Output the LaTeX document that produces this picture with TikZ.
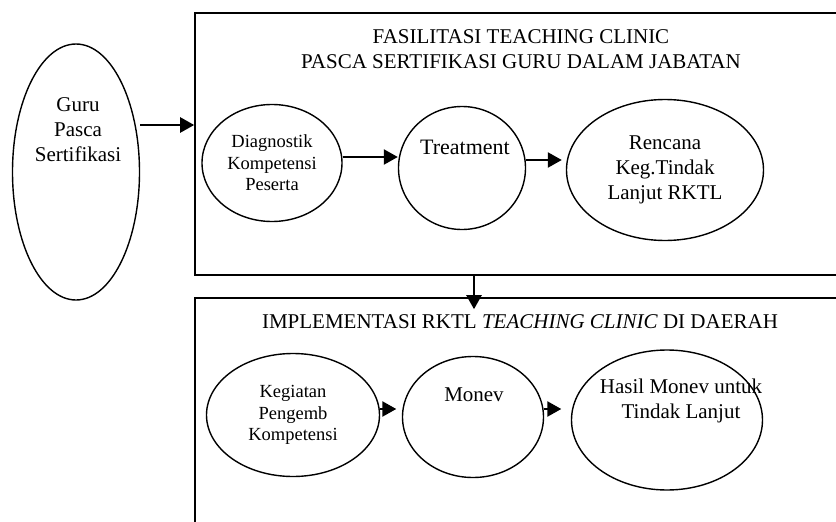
\documentclass[tikz,border=0pt]{standalone}
\usepackage{fontspec}
\setmainfont{Liberation Serif}
\usepackage{tikz}
\usetikzlibrary{arrows.meta,positioning,shapes.geometric}
\tikzset{
  ar/.style={-{Triangle[length=14pt,width=15pt]},line width=2.4pt},
  frame/.style={draw,line width=1.6pt,rectangle,inner sep=0pt},
  bub/.style={draw,ellipse,line width=1.4pt,inner sep=0pt,align=center},
  big/.style={font=\fontsize{21}{25}\selectfont},
  small/.style={font=\fontsize{18.5}{21.5}\selectfont}
}
\begin{document}
\begin{tikzpicture}[x=1pt,y=-1pt]
\useasboundingbox (0,0) rectangle (836,522);
\clip (0,0) rectangle (836,522);
\node[frame,minimum width=705pt,minimum height=262pt] (fasil) at (547.5,144) {};
\node[frame,minimum width=705pt,minimum height=300pt] (impl) at (547.5,448) {};
\node[big,align=center] (fasilT) at (521,49) {FASILITASI TEACHING CLINIC\\PASCA SERTIFIKASI GURU DALAM JABATAN};
\node[big] (implT) at (520,322) {IMPLEMENTASI RKTL \textit{TEACHING CLINIC} DI DAERAH};
\node[bub,minimum width=127pt,minimum height=256pt] (guru) at (76,172) {};
\node[big,align=center] (guruT) at (78,130) {Guru\\Pasca\\Sertifikasi};
\node[bub,small,minimum width=140pt,minimum height=117pt] (diag) at (272,163) {Diagnostik\\Kompetensi\\Peserta};
\node[bub,minimum width=127pt,minimum height=123pt] (treat) at (462,168) {};
\node[font=\fontsize{22}{25}\selectfont] (treatT) at (465,147) {Treatment};
\node[bub,big,minimum width=197pt,minimum height=141pt] (rktl) at (665,170) {Rencana\\Keg.Tindak\\Lanjut RKTL};
\node[bub,small,minimum width=173pt,minimum height=123pt] (kegiatan) at (293,415) {Kegiatan\\Pengemb\\Kompetensi};
\node[bub,minimum width=141pt,minimum height=121pt] (monev) at (473,417) {};
\node[big] (monevT) at (474,395) {Monev};
\node[bub,minimum width=191pt,minimum height=140pt] (hasil) at (667,420) {};
\node[big,align=center] (hasilT) at (681,401) {Hasil Monev untuk\\Tindak Lanjut};
\coordinate (drop) at (474,275);
\draw[ar] ([yshift=47pt]guru.east) -- ([yshift=47pt]guru.east -| fasil.west);
\draw[ar] ([yshift=6pt]diag.east) -- ([yshift=6pt]diag.east -| treat.west);
\draw[ar,shorten >=4pt] ([yshift=8pt]treat.east) -- ([yshift=8pt]treat.east -| rktl.west);
\draw[ar,shorten >=-12pt] (drop) -- (drop |- impl.north);
\draw[ar,shorten >=5.5pt] ([yshift=6pt]kegiatan.east) -- ([yshift=6pt]kegiatan.east -| monev.west);
\draw[ar,shorten >=9.5pt] ([yshift=8pt]monev.east) -- ([yshift=8pt]monev.east -| hasil.west);
\end{tikzpicture}
\end{document}
